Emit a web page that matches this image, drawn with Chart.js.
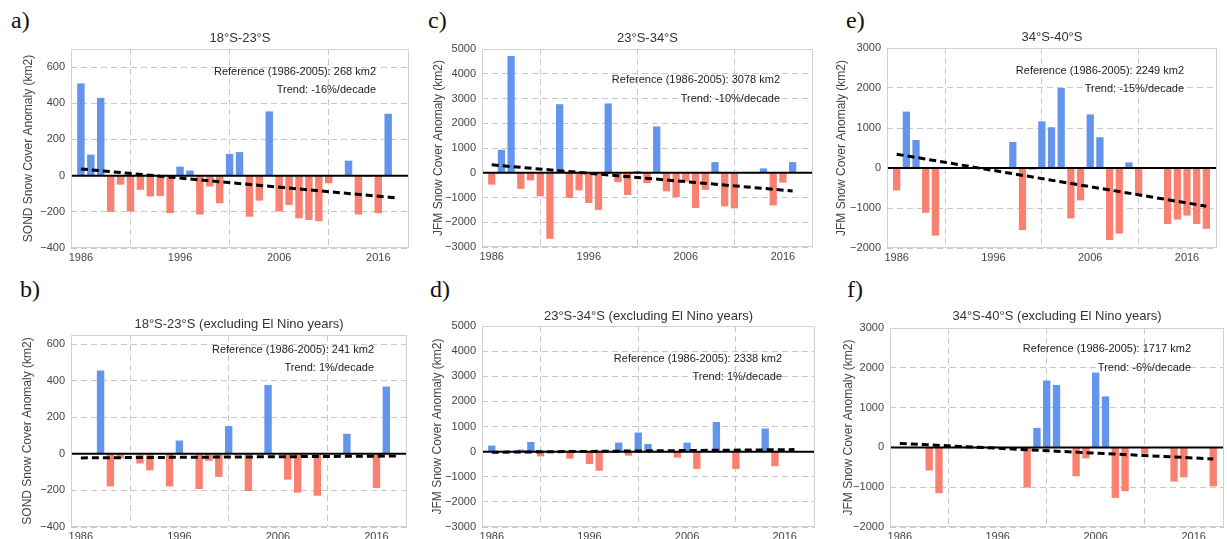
<!DOCTYPE html>
<html>
<head>
<meta charset="utf-8">
<script src="https://cdn.jsdelivr.net/npm/chart.js@4.4.1/dist/chart.umd.min.js"></script>
<style>
  body { margin: 0; width: 1227px; height: 539px; overflow: hidden; background: #fff; position: relative; }
  canvas { position: absolute; }
  .tag { position: absolute; font-family: "Liberation Serif", serif; font-size: 24px; line-height: 1; color: #111; }
</style>
</head>
<body>
<div class="tag" style="left:11px;top:8px">a)</div>
<div class="tag" style="left:428px;top:8px">c)</div>
<div class="tag" style="left:846px;top:8px">e)</div>
<div class="tag" style="left:20px;top:277px">b)</div>
<div class="tag" style="left:430px;top:277px">d)</div>
<div class="tag" style="left:847px;top:277px">f)</div>
<canvas id="a"></canvas>
<canvas id="b"></canvas>
<canvas id="c"></canvas>
<canvas id="d"></canvas>
<canvas id="e"></canvas>
<canvas id="f"></canvas>
<script>
// years on the x axis
const years = [1986, 1987, 1988, 1989, 1990, 1991, 1992, 1993, 1994, 1995,
               1996, 1997, 1998, 1999, 2000, 2001, 2002, 2003, 2004, 2005,
               2006, 2007, 2008, 2009, 2010, 2011, 2012, 2013, 2014, 2015,
               2016, 2017, 2018]
const xTicks = [1986, 1996, 2006, 2016]

// a) 18S-23S, SOND anomaly (km2)
const sondAll = [510, 116, 430, -200, -50, -198, -78, -115, -112, -207,
                 50, 28, -215, -60, -153, 120, 130, -227, -138, 355,
                 -198, -162, -236, -245, -252, -42, null, 83, -215, -8,
                 -208, 342, null]
// b) 18S-23S excluding El Nino years
const sondNoNino = [null, null, 456, -178, -25, null, -53, -90, null, -178,
                    73, null, -192, -38, -126, 152, null, -203, null, 377,
                    null, -141, -212, null, -229, null, null, 110, null, null,
                    -187, 368, null]
// c) 23S-34S, JFM anomaly
const jfmMid = [-480, 930, 4720, -650, -310, -950, -2670, 2770, -1020, -710,
                -1220, -1500, 2800, -380, -900, 70, -420, 1870, -750, -980,
                -360, -1420, -690, 430, -1360, -1440, null, null, 175, -1320,
                -400, 430, null]
// d) 23S-34S excluding El Nino years
const jfmMidNoNino = [240, null, null, 80, 385, -190, null, null, -280, null,
                      -490, -760, null, 360, -160, 760, 305, null, null, -240,
                      360, -690, null, 1180, null, -690, null, null, 920, -580,
                      null, null, null]
// e) 34S-40S, JFM anomaly
const jfmSouth = [-560, 1410, 700, -1120, -1690, null, null, null, null, null,
                  null, null, 650, -1550, -40, 1165, 1020, 2000, -1260, -810,
                  1340, 770, -1800, -1640, 140, -650, null, null, -1400, -1290,
                  -1190, -1400, -1520]
// f) 34S-40S excluding El Nino years
const jfmSouthNoNino = [null, null, null, -580, -1150, null, null, null, null, null,
                        null, null, null, -1010, 490, 1680, 1570, null, -725, -275,
                        1880, 1280, -1270, -1100, null, -160, null, null, -860, -750,
                        null, null, -980]

// trend lines: [start year, end year] and [start value, end value]
const trendYearsA = [1986, 2018], trendA = [37, -124]
const trendYearsB = [1986, 2018], trendB = [-22, -12]
const trendYearsC = [1986, 2017], trendC = [320, -735]
const trendYearsD = [1986, 2017], trendD = [-25, 80]
const trendYearsE = [1986, 2018], trendE = [345, -955]
const trendYearsF = [1986, 2018], trendF = [100, -290]

const yTicksSond = [-400, -200, 0, 200, 400, 600]
const yTicksMid = [-3000, -2000, -1000, 0, 1000, 2000, 3000, 4000, 5000]
const yTicksSouth = [-2000, -1000, 0, 1000, 2000, 3000]

const titles = ["18°S-23°S", "18°S-23°S (excluding El Nino years)",
                "23°S-34°S", "23°S-34°S (excluding El Nino years)",
                "34°S-40°S", "34°S-40°S (excluding El Nino years)"]
const refNotes = ["Reference (1986-2005): 268 km2", "Reference (1986-2005): 241 km2",
                  "Reference (1986-2005): 3078 km2", "Reference (1986-2005): 2338 km2",
                  "Reference (1986-2005): 2249 km2", "Reference (1986-2005): 1717 km2"]
const trendNotes = ["Trend: -16%/decade", "Trend: 1%/decade",
                    "Trend: -10%/decade", "Trend: 1%/decade",
                    "Trend: -15%/decade", "Trend: -6%/decade"]

const BLUE = "#6495ED"
const RED = "#FA8072"
const FONT = "'Liberation Sans', Arial, sans-serif"

// layout in page pixels
const layout = {
  a: { yTitleX: 28, titleY: 39, left: 71, right: 409, top: 49, bottom: 248, n1: 23, n2: 41 },
  b: { yTitleX: 27, titleY: 325, left: 71, right: 407, top: 335, bottom: 527, n1: 15, n2: 33 },
  c: { yTitleX: 438, titleY: 39, left: 482, right: 813, top: 49, bottom: 247, n1: 31, n2: 50 },
  d: { yTitleX: 437, titleY: 317, left: 482, right: 815, top: 326, bottom: 527, n1: 33, n2: 51 },
  e: { yTitleX: 841, titleY: 38, left: 887, right: 1217, top: 48, bottom: 248, n1: 23, n2: 41 },
  f: { yTitleX: 848, titleY: 317, left: 890, right: 1224, top: 328, bottom: 527, n1: 21, n2: 40 }
}

const panelPlugin = {
  id: "panelDecor",
  afterDatasetDraw(chart, args) {
    if (args.meta.type !== "bar") return
    const ctx = chart.ctx
    const area = chart.chartArea
    const y0 = chart.scales.y.getPixelForValue(0)
    ctx.save()
    ctx.strokeStyle = "#000"
    ctx.lineWidth = 2
    ctx.beginPath()
    ctx.moveTo(area.left, y0)
    ctx.lineTo(area.right, y0)
    ctx.stroke()
    ctx.restore()
  },
  afterDraw(chart, args, opts) {
    const ctx = chart.ctx
    const area = chart.chartArea
    ctx.save()
    ctx.strokeStyle = "#d2d2d2"
    ctx.lineWidth = 1
    ctx.strokeRect(area.left + 0.5, area.top + 0.5, area.width - 1, area.height - 1)
    ctx.fillStyle = "#222"
    ctx.font = "11px " + FONT
    ctx.textAlign = "right"
    ctx.textBaseline = "middle"
    ctx.fillText(opts.ref, area.right - 33, area.top + opts.n1)
    ctx.fillText(opts.trend, area.right - 33, area.top + opts.n2)
    ctx.restore()
  }
}

function makePanel(id, idx, values, yTicks, yMax, yLabel, trendYears, trendVals) {
  const L = layout[id]
  const canvasLeft = Math.round(L.yTitleX - 7.2)
  const canvasTop = Math.round(L.titleY - 7.8)
  const w = L.right - canvasLeft
  const h = L.bottom + 20 - canvasTop
  const canvas = document.getElementById(id)
  canvas.width = w
  canvas.height = h
  canvas.style.left = canvasLeft + "px"
  canvas.style.top = canvasTop + "px"

  const bars = years.map((x, i) => ({ x: x, y: values[i] }))
  const trend = trendYears.map((x, i) => ({ x: x, y: trendVals[i] }))

  new Chart(canvas, {
    type: "bar",
    data: {
      datasets: [{
        type: "line",
        data: trend,
        borderColor: "#000",
        borderWidth: 3,
        borderDash: [7, 4],
        pointRadius: 0,
        order: 0
      }, {
        data: bars,
        backgroundColor: c => (c.raw && c.raw.y >= 0) ? BLUE : RED,
        barPercentage: 0.75,
        categoryPercentage: 1,
        order: 1
      }]
    },
    options: {
      responsive: false,
      animation: false,
      devicePixelRatio: 1,
      layout: { padding: 0 },
      plugins: {
        legend: { display: false },
        tooltip: { enabled: false },
        title: {
          display: true,
          text: titles[idx],
          fullSize: false,
          color: "#333",
          font: { family: FONT, size: 13, weight: "normal" },
          padding: { top: 0, bottom: L.top - canvasTop - 15.6 }
        },
        panelDecor: { ref: refNotes[idx], trend: trendNotes[idx], n1: L.n1, n2: L.n2 }
      },
      scales: {
        x: {
          type: "linear",
          min: 1985,
          max: 2019.1,
          offset: false,
          afterBuildTicks: s => { s.ticks = xTicks.map(v => ({ value: v })) },
          afterFit: s => { s.height = 20 },
          ticks: {
            callback: v => String(v),
            color: "#444",
            font: { family: FONT, size: 11 },
            padding: 3,
            maxRotation: 0,
            autoSkip: false
          },
          grid: { color: "#c8c8c8", lineWidth: 1, drawTicks: false },
          border: { display: false, dash: [6, 4] }
        },
        y: {
          min: yTicks[0],
          max: yMax,
          afterBuildTicks: s => { s.ticks = yTicks.map(v => ({ value: v })) },
          afterFit: s => { s.width = L.left - canvasLeft },
          ticks: {
            callback: v => v < 0 ? "\u2212" + Math.abs(v) : String(v),
            color: "#444",
            font: { family: FONT, size: 11 },
            padding: 6
          },
          title: {
            display: true,
            text: yLabel,
            color: "#444",
            font: { family: FONT, size: 12 },
            padding: 0
          },
          grid: { color: "#c8c8c8", lineWidth: 1, drawTicks: false },
          border: { display: false, dash: [6, 4] }
        }
      }
    },
    plugins: [panelPlugin]
  })
}

makePanel("a", 0, sondAll, yTicksSond, 700, "SOND Snow Cover Anomaly (km2)", trendYearsA, trendA)
makePanel("b", 1, sondNoNino, yTicksSond, 650, "SOND Snow Cover Anomaly (km2)", trendYearsB, trendB)
makePanel("c", 2, jfmMid, yTicksMid, 5000, "JFM Snow Cover Anomaly (km2)", trendYearsC, trendC)
makePanel("d", 3, jfmMidNoNino, yTicksMid, 5000, "JFM Snow Cover Anomaly (km2)", trendYearsD, trendD)
makePanel("e", 4, jfmSouth, yTicksSouth, 3000, "JFM Snow Cover Anomaly (km2)", trendYearsE, trendE)
makePanel("f", 5, jfmSouthNoNino, yTicksSouth, 3000, "JFM Snow Cover Anomaly (km2)", trendYearsF, trendF)
</script>
</body>
</html>
